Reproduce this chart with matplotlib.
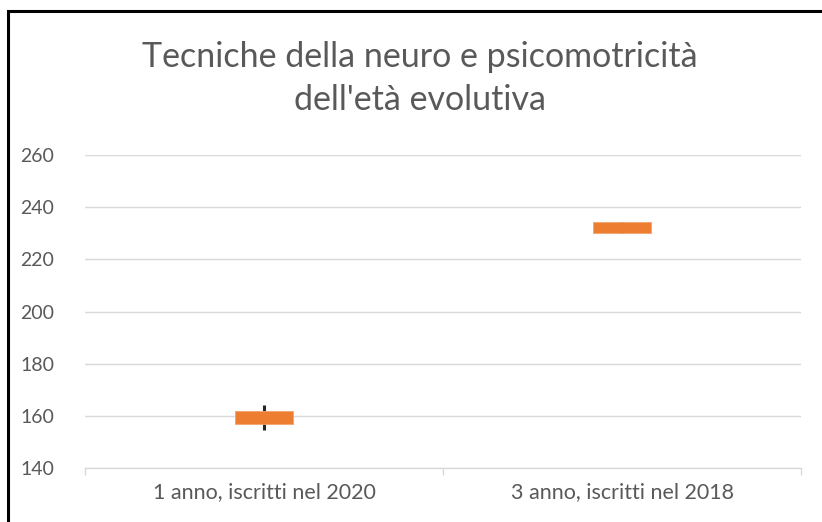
import matplotlib.pyplot as plt
from matplotlib.patches import Rectangle

# Dati
categorie = ['1 anno, iscritti nel 2020', '3 anno, iscritti nel 2018']
apertura = [157, 230]
chiusura = [162, 234.5]
massimo = [164.3, 234.5]
minimo = [154.7, 230]
y_ticks = [140, 160, 180, 200, 220, 240, 260]

titolo_1 = "Tecniche della neuro e psicomotricità"
titolo_2 = "dell'età evolutiva"

grigio = '#595959'
arancio = '#ED7D31'

fig = plt.figure(figsize=(8.22, 5.22), dpi=100)

# testo tagliato in alto (riga precedente del documento)
fig.text(241 / 822, 1 - 0.5 / 522, 'al terzo anno in corso', ha='right', va='baseline',
         fontsize=15, color='#7f7f7f', family='Lato')

# cornice del grafico
fig.patches.append(Rectangle((8 / 822, -0.1), 1.2, (1 - 11 / 522) + 0.1,
                             transform=fig.transFigure, fill=False,
                             edgecolor='black', linewidth=2.2))

ax = fig.add_axes([85 / 822, 1 - 468.3 / 522, 716 / 822, (468.3 - 155) / 522])

x = list(range(len(categorie)))
altezze = [c - o for o, c in zip(apertura, chiusura)]
ax.vlines(x, minimo, massimo, color='#262626', linewidth=2.2, zorder=3)
ax.bar(x, altezze, bottom=apertura, width=0.16, color=arancio,
       edgecolor='#f4a26f', linewidth=0.6, zorder=4)

ax.set_xlim(-0.5, len(categorie) - 0.5)
ax.set_ylim(140, 260)
ax.set_yticks(y_ticks)
ax.set_xticks(x)
ax.set_xticklabels(categorie)
ax.set_xticks([-0.5, 0.5, 1.5], minor=True)

ax.grid(axis='y', color='#d9d9d9', linewidth=1, zorder=0)
for lato in ['top', 'right', 'left']:
    ax.spines[lato].set_visible(False)
ax.spines['bottom'].set_color('#d9d9d9')
ax.spines['bottom'].set_linewidth(1)

ax.tick_params(axis='y', length=0, pad=22, labelsize=14, labelcolor=grigio)
ax.tick_params(axis='x', which='major', length=0, pad=10, labelsize=15.5, labelcolor=grigio)
ax.tick_params(axis='x', which='minor', length=5, color='#d9d9d9', width=1)
for t in ax.get_xticklabels() + ax.get_yticklabels():
    t.set_family('Lato')

fig.text(420 / 822, 1 - 67 / 522, titolo_1, ha='center', va='baseline',
         fontsize=24.5, color=grigio, family='Lato')
fig.text(420 / 822, 1 - 110 / 522, titolo_2, ha='center', va='baseline',
         fontsize=24.5, color=grigio, family='Lato')

fig.savefig('out.png', dpi=100)
